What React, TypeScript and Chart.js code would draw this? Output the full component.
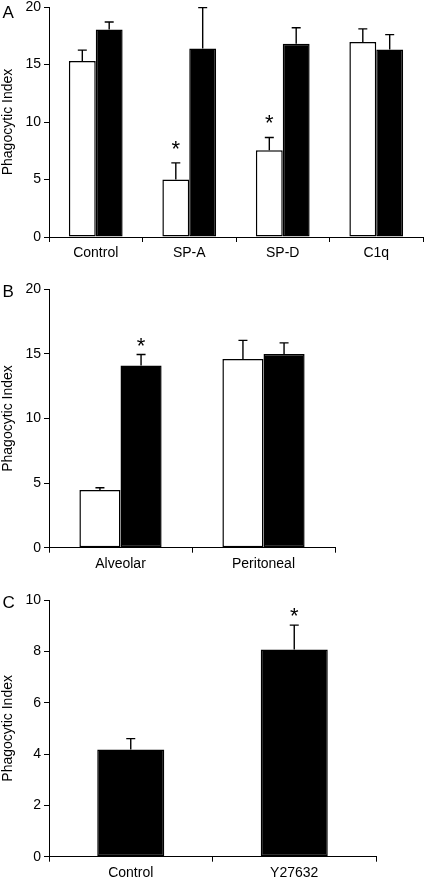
import React, { useEffect, useRef } from 'react';
import { Chart, registerables } from 'chart.js';

Chart.register(...registerables);

const FONT = "'Liberation Sans', Arial, Helvetica, sans-serif";
const Y_TITLE = 'Phagocytic Index';

// Panel A
const categoriesA = ['Control', 'SP-A', 'SP-D', 'C1q'];
const openA = [15.3, 5.0, 7.55, 16.95];
const openErrA = [0.95, 1.45, 1.1, 1.15];
const openSigA = [false, true, true, false];
const filledA = [18.05, 16.4, 16.8, 16.3];
const filledErrA = [0.65, 3.55, 1.4, 1.3];
const filledSigA = [false, false, false, false];
const yMaxA = 20;
const yStepA = 5;

// Panel B
const categoriesB = ['Alveolar', 'Peritoneal'];
const openB = [4.47, 14.6];
const openErrB = [0.17, 1.45];
const openSigB = [false, false];
const filledB = [14.1, 15.0];
const filledErrB = [0.85, 0.85];
const filledSigB = [true, false];
const yMaxB = 20;
const yStepB = 5;

// Panel C
const categoriesC = ['Control', 'Y27632'];
const filledC = [4.18, 8.07];
const filledErrC = [0.42, 0.95];
const filledSigC = [false, true];
const yMaxC = 10;
const yStepC = 2;

type Series = { values: number[]; errs: number[]; sig: boolean[]; fill: string };
type PanelCfg = {
  letter: string;
  letterY: number;
  top: number;
  height: number;
  areaTop: number;
  areaBottom: number;
  areaLeft: number;
  areaRight: number;
  categories: string[];
  series: Series[];
  catPct: number;
  yMax: number;
  yStep: number;
  starOffset: number;
};

const panels: PanelCfg[] = [
  {
    letter: 'A', letterY: 18, top: 0, height: 270,
    areaTop: 7, areaBottom: 237, areaLeft: 49, areaRight: 423,
    categories: categoriesA,
    series: [
      { values: openA, errs: openErrA, sig: openSigA, fill: '#ffffff' },
      { values: filledA, errs: filledErrA, sig: filledSigA, fill: '#000000' },
    ],
    catPct: 0.575, yMax: yMaxA, yStep: yStepA, starOffset: 20,
  },
  {
    letter: 'B', letterY: 17, top: 280, height: 300,
    areaTop: 9.3, areaBottom: 267.7, areaLeft: 49, areaRight: 335,
    categories: categoriesB,
    series: [
      { values: openB, errs: openErrB, sig: openSigB, fill: '#ffffff' },
      { values: filledB, errs: filledErrB, sig: filledSigB, fill: '#000000' },
    ],
    catPct: 0.575, yMax: yMaxB, yStep: yStepB, starOffset: 14,
  },
  {
    letter: 'C', letterY: 28, top: 580, height: 300,
    areaTop: 20, areaBottom: 276.7, areaLeft: 49, areaRight: 376,
    categories: categoriesC,
    series: [
      { values: filledC, errs: filledErrC, sig: filledSigC, fill: '#000000' },
    ],
    catPct: 0.41, yMax: yMaxC, yStep: yStepC, starOffset: 15,
  },
];

const errorBarPlugin = {
  id: 'errorBars',
  afterDatasetsDraw(chart: any, _args: any, opts: any) {
    const { ctx } = chart;
    const y = chart.scales.y;
    ctx.save();
    ctx.strokeStyle = '#000';
    ctx.fillStyle = '#000';
    ctx.lineWidth = 1.4;
    chart.data.datasets.forEach((ds: any, i: number) => {
      const meta = chart.getDatasetMeta(i);
      const errs: number[] = opts.errors[i];
      const sig: boolean[] = opts.sig[i];
      meta.data.forEach((bar: any, j: number) => {
        const v = ds.data[j];
        const top = y.getPixelForValue(v + errs[j]);
        ctx.beginPath();
        ctx.moveTo(bar.x, bar.y);
        ctx.lineTo(bar.x, top);
        ctx.moveTo(bar.x - 4.5, top);
        ctx.lineTo(bar.x + 4.5, top);
        ctx.stroke();
        if (sig[j]) {
          const fs = 22;
          ctx.font = `${fs}px ${FONT}`;
          ctx.textAlign = 'center';
          ctx.textBaseline = 'alphabetic';
          const center = top - opts.starOffset;
          ctx.fillText('*', bar.x, center + 0.58 * fs);
        }
      });
    });
    ctx.restore();
  },
};

const letterPlugin = {
  id: 'panelLetter',
  afterDraw(chart: any, _args: any, opts: any) {
    const { ctx } = chart;
    ctx.save();
    ctx.fillStyle = '#000';
    ctx.font = `17px ${FONT}`;
    ctx.textAlign = 'left';
    ctx.textBaseline = 'alphabetic';
    ctx.fillText(opts.text, 2.5, opts.y);
    ctx.restore();
  },
};

function Panel({ cfg }: { cfg: PanelCfg }) {
  const ref = useRef<HTMLCanvasElement | null>(null);
  useEffect(() => {
    if (!ref.current) return;
    const chart = new Chart(ref.current, {
      type: 'bar',
      data: {
        labels: cfg.categories,
        datasets: cfg.series.map((s) => ({
          data: s.values,
          backgroundColor: s.fill,
          borderColor: '#000',
          borderWidth: 1.5,
          borderSkipped: false,
          categoryPercentage: cfg.catPct,
          barPercentage: 1,
        })),
      },
      options: {
        responsive: false,
        animation: false,
        devicePixelRatio: 1,
        layout: {
          padding: { top: cfg.areaTop, right: 427 - cfg.areaRight, left: 0, bottom: 0 },
        },
        plugins: {
          legend: { display: false },
          tooltip: { enabled: false },
          errorBars: {
            errors: cfg.series.map((s) => s.errs),
            sig: cfg.series.map((s) => s.sig),
            starOffset: cfg.starOffset,
          },
          panelLetter: { text: cfg.letter, y: cfg.letterY },
        } as any,
        scales: {
          x: {
            offset: true,
            grid: {
              display: true,
              offset: true,
              drawOnChartArea: false,
              drawTicks: true,
              tickLength: 5,
              color: '#000',
              lineWidth: 1,
            },
            border: { display: true, color: '#000', width: 1 },
            ticks: { color: '#000', font: { family: FONT, size: 14 }, padding: 3, maxRotation: 0 },
            afterFit: (s: any) => {
              s.height = cfg.height - cfg.areaBottom;
              s.paddingLeft = 0;
              s.paddingRight = 0;
            },
          },
          y: {
            min: 0,
            max: cfg.yMax,
            ticks: { stepSize: cfg.yStep, color: '#000', font: { family: FONT, size: 14 }, padding: 3 },
            grid: {
              display: true,
              drawOnChartArea: false,
              drawTicks: true,
              tickLength: 5,
              color: '#000',
              lineWidth: 1,
            },
            border: { display: true, color: '#000', width: 1 },
            title: {
              display: true,
              text: Y_TITLE,
              color: '#000',
              font: { family: FONT, size: 14 },
              padding: 0,
            },
            afterFit: (s: any) => {
              s.width = cfg.areaLeft;
              s.paddingTop = 0;
              s.paddingBottom = 0;
            },
          },
        },
      },
      plugins: [errorBarPlugin, letterPlugin],
    } as any);
    return () => chart.destroy();
  }, []);
  return (
    <canvas
      ref={ref}
      width={427}
      height={cfg.height}
      style={{ position: 'absolute', left: 0, top: cfg.top, width: 427, height: cfg.height }}
    />
  );
}

export default function App() {
  return (
    <div style={{ position: 'absolute', left: 0, top: 0, width: 427, height: 880, background: '#fff' }}>
      {panels.map((p) => (
        <Panel key={p.letter} cfg={p} />
      ))}
    </div>
  );
}
